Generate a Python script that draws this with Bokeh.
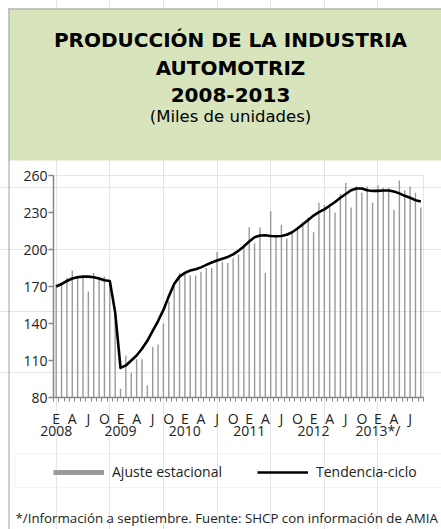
from bokeh.plotting import figure
from bokeh.models import (Range1d, FixedTicker, LinearAxis, ColumnDataSource,
                          Legend, LegendItem, Label, BoxAnnotation)
from bokeh.embed import file_html
from bokeh.resources import INLINE

# ---------------- data ----------------
header_lines = ["PRODUCCIÓN DE LA INDUSTRIA", "AUTOMOTRIZ", "2008-2013", "(Miles de unidades)"]

ajuste = [
    172, 173, 177, 183, 179, 179, 166, 181, 178, 178, 174, 148,   # 2008
    87, 114, 100, 111, 111, 90, 121, 123, 140, 158, 171, 181,     # 2009
    180, 179, 179, 182, 185, 185, 198, 190, 189, 193, 196, 204,   # 2010
    218, 205, 218, 181, 231, 211, 220, 209, 214, 216, 222, 226,   # 2011
    214, 238, 236, 237, 230, 245, 254, 234, 251, 246, 251, 238,   # 2012
    252, 250, 250, 232, 256, 248, 251, 246, 234,                  # 2013 (ene-sep)
]
tendencia = [
    170, 172, 174.5, 176.5, 177.5, 178, 178, 177.5, 176.5, 175, 174.5, 149,
    104, 106, 110, 114, 119.5, 126, 134, 142, 151, 162, 172, 178,
    181, 183, 184, 185.5, 187.5, 189.5, 191, 192.5, 194, 196, 199, 202.5,
    206.5, 210, 211.3, 211.5, 211, 210.8, 211, 212, 214, 217, 220.5, 224,
    227.5, 230.3, 232.5, 235.5, 238.5, 242, 245, 248, 249.5, 249.5, 248, 247.5,
    247.5, 247.8, 247.8, 247, 245.5, 243.5, 242, 240, 239,
]
month_letters = ["E", "A", "J", "O"]
years = ["2008", "2009", "2010", "2011", "2012", "2013*/"]
y_ticks = [80, 110, 140, 170, 200, 230, 260]
legend_labels = ["Ajuste estacional", "Tendencia-ciclo"]
footnote = "*/Información a septiembre.   Fuente: SHCP con información de AMIA"

n = len(ajuste)
idx = list(range(n))
src = ColumnDataSource(dict(x=idx, ajuste=ajuste, tendencia=tendencia))
Y_MIN, Y_MAX = y_ticks[0], y_ticks[-1]

# ---------------- layout (page pixels) ----------------
W, H = 441, 529
PX0, PY0 = 0, 0                      # canvas origin on the page
FR_L, FR_R, FR_T, FR_B = 53, 423, 175, 397   # plot area on the page
kx = (FR_R - FR_L) / n
ky = (FR_B - FR_T) / (Y_MAX - Y_MIN)
x_start = -0.5 - (FR_L - PX0) / kx
x_end = x_start + W / kx
y_top = Y_MAX + (FR_T - PY0) / ky
y_bot = y_top - H / ky


def X(px):
    return x_start + (px - PX0) / kx


def Y(py):
    return y_top - (py - PY0) / ky


FONT = "Open Sans"
HFONT = "DejaVu Sans"
BORDER = "#a0a0a0"
BAR = "#999999"
AXIS = "#868686"
TXT = "#222222"

p = figure(width=W, height=H, x_range=Range1d(x_start, x_end), y_range=Range1d(y_bot, y_top),
           output_backend="svg", toolbar_location=None, min_border=0, title=None,
           x_axis_location=None, y_axis_location=None, outline_line_color=None,
           background_fill_color="white", border_fill_color="white")

# header band
p.add_layout(BoxAnnotation(left=X(8), right=X(460), top=Y(8), bottom=Y(160),
                           fill_color="#d8e4bc", fill_alpha=1, line_color=None,
                           level="underlay"))
hy = [39, 67, 94, 116]
hsize = ["20px", "20px", "20px", "16.5px"]
hstyle = ["bold", "bold", "bold", "normal"]
for t, yy, sz, st in zip(header_lines, hy, hsize, hstyle):
    p.add_layout(Label(x=X(230), y=Y(yy), text=t, text_align="center",
                       text_baseline="alphabetic", text_font=HFONT, text_font_size=sz,
                       text_font_style=st, text_color="#000000"))

# outer frame lines (left and top)
p.add_layout(BoxAnnotation(left=X(8), right=X(9), top=Y(8), bottom=y_bot,
                           fill_color=BORDER, fill_alpha=1, line_color=None))
p.add_layout(BoxAnnotation(left=X(8), right=x_end, top=Y(8), bottom=Y(9),
                           fill_color=BORDER, fill_alpha=1, line_color=None))

# plot area outline
p.add_layout(BoxAnnotation(left=-0.5, right=n - 0.5, bottom=Y_MIN, top=Y_MAX,
                           fill_alpha=0, fill_color=None, line_color="#b0b0b0",
                           line_width=1, level="underlay"))

# axes
yaxis = LinearAxis(fixed_location=-0.5, bounds=(Y_MIN, Y_MAX),
                   ticker=FixedTicker(ticks=y_ticks, minor_ticks=[]),
                   axis_line_color=AXIS, axis_line_width=1.5,
                   major_tick_line_color=AXIS, major_tick_line_width=1.5,
                   major_tick_out=5, major_tick_in=0, minor_tick_line_color=None,
                   major_label_standoff=1,
                   major_label_text_font=FONT, major_label_text_font_size="14px",
                   major_label_text_color=TXT)
p.add_layout(yaxis, "left")

month_pos = list(range(0, n, 3))
month_over = {k: month_letters[(k // 3) % 4] for k in month_pos}
bounds = [i - 0.5 for i in range(n + 1)]
xaxis = LinearAxis(fixed_location=Y_MIN, bounds=(-0.5, n - 0.5),
                   ticker=FixedTicker(ticks=month_pos, minor_ticks=bounds),
                   major_label_overrides=month_over,
                   axis_line_color=AXIS, axis_line_width=1.5,
                   major_tick_line_color=None, major_tick_out=0, major_tick_in=0,
                   minor_tick_line_color=AXIS, minor_tick_line_width=1,
                   minor_tick_out=4, minor_tick_in=0,
                   major_label_standoff=7,
                   major_label_text_font=FONT, major_label_text_font_size="14px",
                   major_label_text_color=TXT)
p.add_layout(xaxis, "below")

year_pos = list(range(0, n, 12))
year_over = {k: years[j] for j, k in enumerate(year_pos)}
yearaxis = LinearAxis(fixed_location=Y_MIN, bounds=(-0.5, n - 0.5),
                      ticker=FixedTicker(ticks=year_pos, minor_ticks=[]),
                      major_label_overrides=year_over,
                      axis_line_color=None, major_tick_line_color=None,
                      minor_tick_line_color=None, major_tick_out=0, major_tick_in=0,
                      major_label_standoff=23,
                      major_label_text_font=FONT, major_label_text_font_size="14px",
                      major_label_text_color=TXT)
p.add_layout(yearaxis, "below")

# data
p.vbar(x="x", top="ajuste", bottom=Y_MIN, width=0.26, source=src,
       fill_color=BAR, line_color=None)
p.line(x="x", y="tendencia", source=src, line_color="#000000", line_width=2.6,
       line_join="round")

# legend
p.add_layout(BoxAnnotation(left=X(15), right=X(460), top=Y(453), bottom=Y(487),
                           fill_alpha=0, fill_color=None, line_color="#d9d9d9",
                           line_width=1, level="underlay"))
r_bar = p.line(x="x", y="ajuste", source=src, line_color=BAR, line_width=5, visible=False)
r_line = p.line(x="x", y="tendencia", source=src, line_color="#000000", line_width=2.6,
                visible=False)
legend = Legend(items=[LegendItem(label=legend_labels[0], renderers=[r_bar]),
                       LegendItem(label=legend_labels[1], renderers=[r_line])],
                orientation="horizontal", location=(53 - PX0, PY0 + H - 481.5),
                glyph_width=51, glyph_height=20, label_standoff=8, label_width=112,
                spacing=33, padding=0, margin=0,
                border_line_color=None, background_fill_alpha=0,
                label_text_font=FONT, label_text_font_size="14px",
                label_text_color=TXT)
p.add_layout(legend)

# footnote
p.add_layout(Label(x=X(15), y=Y(517), text=footnote, text_align="left",
                   text_baseline="alphabetic", text_font=FONT, text_font_size="13.3px",
                   text_color=TXT))

open("out.html", "w").write(file_html(p, INLINE))
